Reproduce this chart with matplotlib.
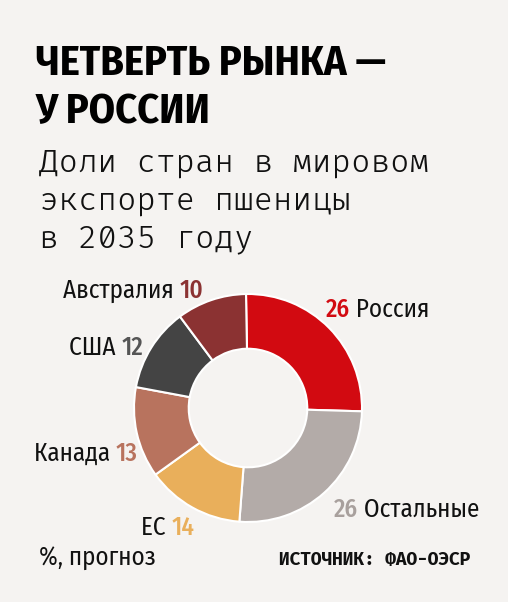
import matplotlib
matplotlib.use('Agg')
import matplotlib.pyplot as plt
from matplotlib import font_manager

# data
labels = ['Россия', 'Остальные', 'ЕС', 'Канада', 'США', 'Австралия']
values = [26, 26, 14, 13, 12, 10]
colors = ['#d20a11', '#b3aba8', '#e9af5b', '#b8735e', '#444444', '#8b3232']
num_colors = ['#d20a11', '#a8a09d', '#e9af5b', '#b8735e', '#555555', '#8b3232']

title = ['ЧЕТВЕРТЬ РЫНКА —', 'У РОССИИ']
subtitle = ['Доли стран в мировом', 'экспорте пшеницы', 'в 2035 году']
note = '%, прогноз'
source = 'ИСТОЧНИК: ФАО-ОЭСР'

names = {f.name for f in font_manager.fontManager.ttflist}


def pick(*cands):
    for c in cands:
        if c in names:
            return c
    return 'DejaVu Sans'


cond = pick('Fira Sans Condensed', 'Fira Sans Extra Condensed', 'Roboto Condensed',
            'PT Sans Narrow', 'Open Sans Condensed', 'Archivo Narrow')
mono = pick('Fira Code', 'Fira Mono', 'DejaVu Sans Mono')
mono_b = pick('Fira Mono', 'Fira Code', 'DejaVu Sans Mono')

bg = '#f5f3f1'
ink = '#111111'

W, H = 508, 602
fig = plt.figure(figsize=(W / 100, H / 100), dpi=100, facecolor=bg)

# donut
cx, cy, r = 248, 408, 114
pie_ax = fig.add_axes([(cx - r) / W, 1 - (cy + r) / H, 2 * r / W, 2 * r / H])
pie_ax.set_facecolor('none')
pie_ax.pie(values, colors=colors, startangle=91, counterclock=False, radius=1,
           wedgeprops=dict(width=0.48, edgecolor='white', linewidth=1.5))
pie_ax.set_xlim(-1, 1)
pie_ax.set_ylim(-1, 1)

# text layer in pixel coords, on top of the donut
tx = fig.add_axes([0, 0, 1, 1])
tx.set_xlim(0, W)
tx.set_ylim(H, 0)
tx.axis('off')

tx.text(36, 75, title[0], fontsize=30.3, fontweight='bold',
        family=[cond, 'DejaVu Sans'], va='baseline', color='black')
tx.text(36, 123, title[1], fontsize=30.3, fontweight='bold',
        family=[cond, 'DejaVu Sans'], va='baseline', color='black')

for i, line in enumerate(subtitle):
    tx.text(39, 172 + i * 37.5, line, fontsize=22.8, family=[mono, 'DejaVu Sans Mono'],
            fontweight='light', va='baseline', color=ink)


def label(x, y, parts):
    # parts: list of (text, colour, weight) drawn one after another
    prev = None
    for s, c, wt in parts:
        if prev is None:
            prev = tx.text(x, y, s, fontsize=18, family=[cond, 'DejaVu Sans'],
                           color=c, fontweight=wt, va='baseline')
        else:
            prev = tx.annotate(s, xy=(1, 0), xycoords=prev, xytext=(0, 0),
                               textcoords='offset points', fontsize=18,
                               family=[cond, 'DejaVu Sans'], color=c,
                               fontweight=wt, va='bottom', ha='left')


label(326, 317, [(str(values[0]), num_colors[0], 'medium'), (' ' + labels[0], ink, 'normal')])
label(334, 517, [(str(values[1]), num_colors[1], 'medium'), (' ' + labels[1], ink, 'normal')])
label(141, 535, [(labels[2] + ' ', ink, 'normal'), (str(values[2]), num_colors[2], 'medium')])
label(34, 461, [(labels[3] + ' ', ink, 'normal'), (str(values[3]), num_colors[3], 'medium')])
label(69, 355, [(labels[4] + ' ', ink, 'normal'), (str(values[4]), num_colors[4], 'medium')])
label(63, 298, [(labels[5] + ' ', ink, 'normal'), (str(values[5]), num_colors[5], 'medium')])

tx.text(39, 565, note, fontsize=18, family=[cond, 'DejaVu Sans'],
        va='baseline', color=ink)
tx.text(470, 565, source, fontsize=12.8, family=[mono_b, 'DejaVu Sans Mono'],
        fontweight='bold', ha='right', va='baseline', color=ink)

fig.savefig('out.png', dpi=100, facecolor=bg)
